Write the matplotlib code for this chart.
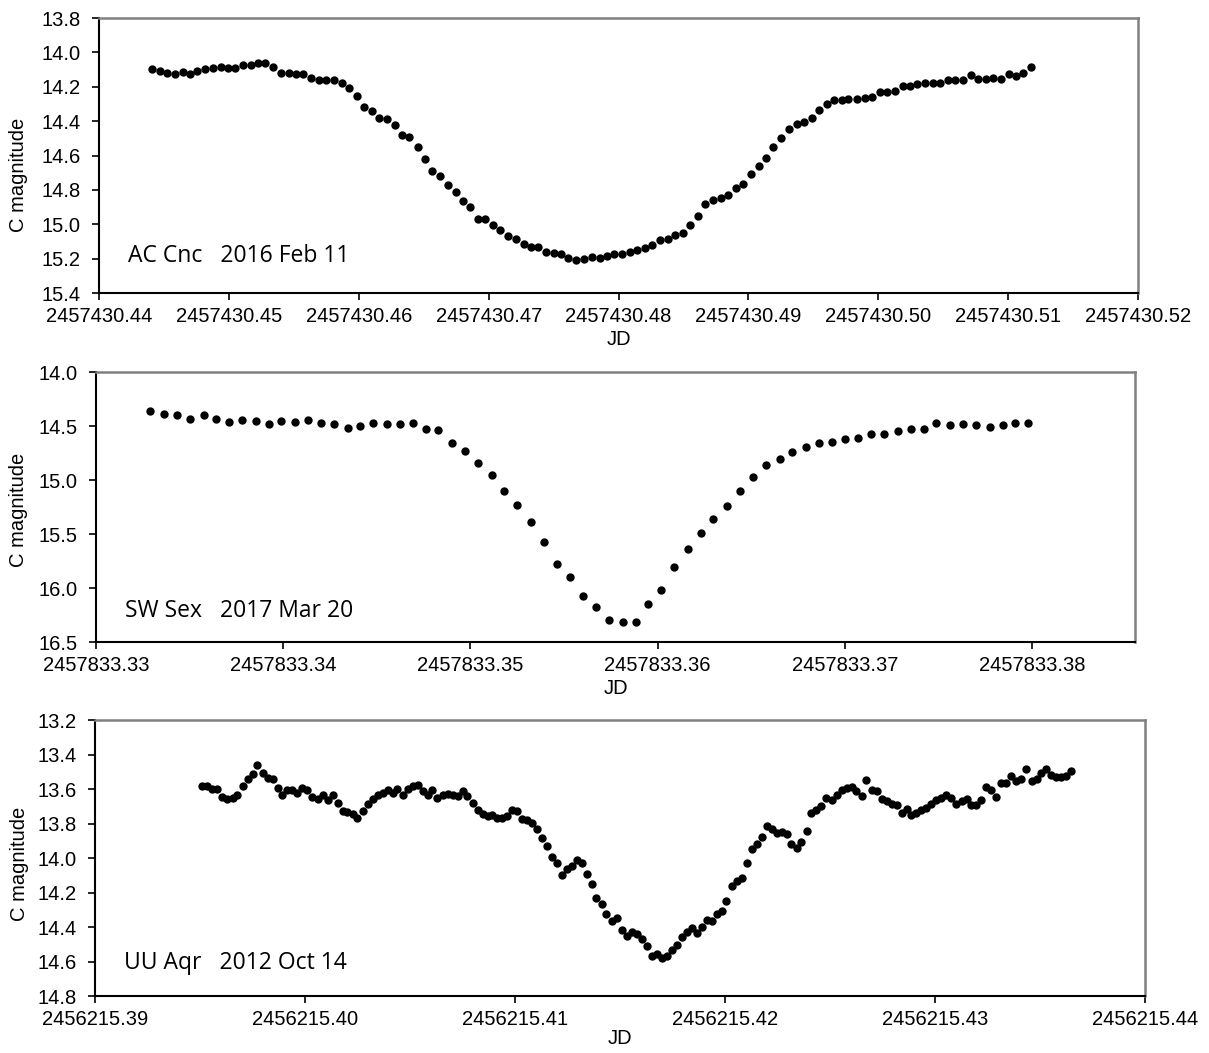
import numpy as np
import matplotlib
matplotlib.use("Agg")
import matplotlib.pyplot as plt
from matplotlib.ticker import FormatStrFormatter

plt.rcParams['font.family'] = ['Liberation Sans', 'DejaVu Sans']

# ------------------------------
# AC Cnc  2016 Feb 11
# ------------------------------
jd0_ac = 2457430.0
t_ac = [0.44408, 0.44470, 0.44526, 0.44585, 0.44644, 0.44700, 0.44757, 0.44816,
        0.44875, 0.44937, 0.44996, 0.45047, 0.45111, 0.45168, 0.45227, 0.45278,
        0.45337, 0.45399, 0.45460, 0.45519, 0.45573, 0.45632, 0.45694, 0.45750,
        0.45807, 0.45868, 0.45922, 0.45984, 0.46040, 0.46099, 0.46158, 0.46215,
        0.46276, 0.46333, 0.46389, 0.46453, 0.46512, 0.46563, 0.46625, 0.46684,
        0.46746, 0.46805, 0.46856, 0.46915, 0.46974, 0.47035, 0.47089, 0.47148,
        0.47208, 0.47272, 0.47328, 0.47382, 0.47441, 0.47500, 0.47559, 0.47613,
        0.47672, 0.47731, 0.47793, 0.47854, 0.47908, 0.47964, 0.48026, 0.48088,
        0.48139, 0.48201, 0.48259, 0.48321, 0.48380, 0.48434, 0.48493, 0.48552,
        0.48614, 0.48668, 0.48727, 0.48786, 0.48845, 0.48901, 0.48960, 0.49019,
        0.49081, 0.49137, 0.49191, 0.49250, 0.49312, 0.49371, 0.49429, 0.49486,
        0.49543, 0.49602, 0.49660, 0.49717, 0.49768, 0.49835, 0.49894, 0.49953,
        0.50010, 0.50068, 0.50128, 0.50187, 0.50243, 0.50299, 0.50359, 0.50418,
        0.50479, 0.50533, 0.50592, 0.50651, 0.50713, 0.50769, 0.50826, 0.50884,
        0.50944, 0.51005, 0.51061, 0.51118, 0.51177]
mag_ac = [14.095, 14.108, 14.122, 14.128, 14.114, 14.128, 14.108, 14.095,
          14.089, 14.083, 14.089, 14.089, 14.075, 14.075, 14.064, 14.064,
          14.083, 14.122, 14.122, 14.128, 14.128, 14.147, 14.161, 14.161,
          14.161, 14.180, 14.209, 14.252, 14.316, 14.341, 14.384, 14.386,
          14.423, 14.481, 14.494, 14.551, 14.620, 14.688, 14.717, 14.770,
          14.810, 14.863, 14.901, 14.969, 14.969, 15.006, 15.031, 15.068,
          15.084, 15.117, 15.130, 15.130, 15.161, 15.169, 15.175, 15.194,
          15.208, 15.200, 15.189, 15.194, 15.183, 15.175, 15.175, 15.161,
          15.148, 15.136, 15.123, 15.092, 15.088, 15.064, 15.053, 15.006,
          14.954, 14.882, 14.857, 14.845, 14.830, 14.787, 14.766, 14.706,
          14.661, 14.616, 14.549, 14.498, 14.446, 14.415, 14.407, 14.384,
          14.335, 14.298, 14.277, 14.277, 14.271, 14.271, 14.265, 14.258,
          14.231, 14.231, 14.225, 14.194, 14.194, 14.186, 14.178, 14.180,
          14.180, 14.161, 14.161, 14.161, 14.134, 14.153, 14.153, 14.147,
          14.155, 14.128, 14.136, 14.122, 14.083]

# ------------------------------
# SW Sex  2017 Mar 20
# ------------------------------
jd0_sw = 2457833.0
t_sw = [0.33291, 0.33363, 0.33434, 0.33504, 0.33575, 0.33640, 0.33713, 0.33781,
        0.33854, 0.33924, 0.33989, 0.34062, 0.34132, 0.34203, 0.34273, 0.34346,
        0.34411, 0.34481, 0.34552, 0.34623, 0.34695, 0.34765, 0.34829, 0.34901,
        0.34972, 0.35042, 0.35115, 0.35180, 0.35250, 0.35323, 0.35393, 0.35464,
        0.35534, 0.35600, 0.35672, 0.35741, 0.35813, 0.35884, 0.35949, 0.36019,
        0.36090, 0.36162, 0.36233, 0.36298, 0.36369, 0.36441, 0.36512, 0.36580,
        0.36653, 0.36720, 0.36790, 0.36861, 0.36931, 0.37002, 0.37069, 0.37139,
        0.37210, 0.37282, 0.37351, 0.37423, 0.37489, 0.37561, 0.37630, 0.37700,
        0.37773, 0.37843, 0.37908, 0.37979]
mag_sw = [14.358, 14.389, 14.398, 14.432, 14.398, 14.432, 14.463, 14.441,
          14.454, 14.485, 14.454, 14.463, 14.441, 14.472, 14.485, 14.515,
          14.503, 14.472, 14.485, 14.485, 14.472, 14.525, 14.537, 14.660,
          14.731, 14.846, 14.951, 15.105, 15.231, 15.386, 15.571, 15.775,
          15.901, 16.077, 16.176, 16.296, 16.318, 16.318, 16.148, 16.018,
          15.809, 15.642, 15.488, 15.364, 15.241, 15.105, 14.969, 14.858,
          14.806, 14.744, 14.691, 14.660, 14.648, 14.617, 14.608, 14.577,
          14.577, 14.546, 14.525, 14.525, 14.472, 14.494, 14.485, 14.494,
          14.506, 14.494, 14.472, 14.472]

# ------------------------------
# UU Aqr  2012 Oct 14
# ------------------------------
jd0_uu = 2456215.0
t_uu = [0.39511, 0.39535, 0.39559, 0.39581, 0.39606, 0.39630, 0.39656, 0.39678,
        0.39703, 0.39727, 0.39751, 0.39773, 0.39798, 0.39822, 0.39846, 0.39870,
        0.39892, 0.39916, 0.39940, 0.39964, 0.39987, 0.40011, 0.40035, 0.40060,
        0.40084, 0.40108, 0.40132, 0.40156, 0.40179, 0.40202, 0.40227, 0.40249,
        0.40275, 0.40298, 0.40322, 0.40346, 0.40370, 0.40394, 0.40417, 0.40440,
        0.40465, 0.40489, 0.40513, 0.40537, 0.40560, 0.40584, 0.40606, 0.40630,
        0.40656, 0.40679, 0.40703, 0.40727, 0.40751, 0.40773, 0.40798, 0.40822,
        0.40846, 0.40870, 0.40892, 0.40916, 0.40940, 0.40964, 0.40987, 0.41011,
        0.41035, 0.41059, 0.41079, 0.41106, 0.41130, 0.41154, 0.41176, 0.41202,
        0.41224, 0.41249, 0.41271, 0.41297, 0.41319, 0.41345, 0.41368, 0.41386,
        0.41416, 0.41435, 0.41462, 0.41484, 0.41510, 0.41532, 0.41557, 0.41579,
        0.41605, 0.41629, 0.41652, 0.41675, 0.41698, 0.41722, 0.41746, 0.41771,
        0.41794, 0.41819, 0.41841, 0.41867, 0.41889, 0.41914, 0.41938, 0.41962,
        0.41984, 0.42005, 0.42032, 0.42056, 0.42079, 0.42103, 0.42129, 0.42151,
        0.42176, 0.42198, 0.42222, 0.42246, 0.42272, 0.42294, 0.42313, 0.42341,
        0.42362, 0.42389, 0.42408, 0.42433, 0.42457, 0.42481, 0.42508, 0.42532,
        0.42556, 0.42579, 0.42603, 0.42624, 0.42651, 0.42672, 0.42698, 0.42722,
        0.42746, 0.42770, 0.42794, 0.42817, 0.42841, 0.42865, 0.42886, 0.42910,
        0.42933, 0.42957, 0.42981, 0.43005, 0.43029, 0.43052, 0.43076, 0.43100,
        0.43127, 0.43151, 0.43172, 0.43195, 0.43219, 0.43243, 0.43267, 0.43291,
        0.43314, 0.43338, 0.43362, 0.43386, 0.43410, 0.43433, 0.43460, 0.43484,
        0.43503, 0.43529, 0.43551, 0.43575, 0.43600, 0.43624, 0.43648]
mag_uu = [13.582, 13.582, 13.601, 13.601, 13.645, 13.660, 13.653, 13.637,
          13.582, 13.541, 13.511, 13.459, 13.509, 13.536, 13.541, 13.593,
          13.634, 13.607, 13.607, 13.620, 13.593, 13.607, 13.645, 13.660,
          13.637, 13.666, 13.634, 13.680, 13.729, 13.735, 13.747, 13.768,
          13.729, 13.685, 13.660, 13.634, 13.620, 13.607, 13.620, 13.599,
          13.634, 13.599, 13.582, 13.574, 13.612, 13.634, 13.607, 13.649,
          13.634, 13.626, 13.634, 13.639, 13.611, 13.639, 13.683, 13.724,
          13.747, 13.754, 13.752, 13.768, 13.768, 13.754, 13.720, 13.729,
          13.774, 13.777, 13.797, 13.833, 13.885, 13.931, 13.992, 14.027,
          14.098, 14.063, 14.044, 14.011, 14.031, 14.090, 14.148, 14.232,
          14.265, 14.322, 14.363, 14.349, 14.418, 14.453, 14.428, 14.439,
          14.468, 14.508, 14.568, 14.554, 14.581, 14.566, 14.533, 14.504,
          14.460, 14.430, 14.407, 14.432, 14.401, 14.359, 14.363, 14.324,
          14.305, 14.251, 14.161, 14.130, 14.117, 14.027, 13.948, 13.916,
          13.879, 13.814, 13.833, 13.852, 13.848, 13.862, 13.917, 13.942,
          13.906, 13.841, 13.739, 13.724, 13.699, 13.653, 13.662, 13.637,
          13.607, 13.593, 13.588, 13.612, 13.641, 13.549, 13.607, 13.614,
          13.659, 13.672, 13.687, 13.691, 13.737, 13.714, 13.752, 13.737,
          13.720, 13.712, 13.685, 13.666, 13.653, 13.632, 13.653, 13.687,
          13.672, 13.659, 13.693, 13.693, 13.664, 13.588, 13.607, 13.647,
          13.563, 13.563, 13.524, 13.555, 13.540, 13.486, 13.555, 13.541,
          13.505, 13.486, 13.520, 13.532, 13.532, 13.526, 13.494]

fig = plt.figure(figsize=(12.09, 10.53), dpi=100)

panels = [
    # axes rect, jd0, t, mag, xlim, xticks, ylim, yticks, label, text y,
    # ylabel x, ylabel y, xlabel pad
    ([0.0819, 0.7217, 0.8594, 0.2612], jd0_ac, t_ac, mag_ac,
     (0.44, 0.52), np.arange(0.44, 0.5201, 0.01), (15.4, 13.8),
     np.arange(13.8, 15.401, 0.2), "AC Cnc   2016 Feb 11", 0.113, -0.068, 0.43, 3),
    ([0.0794, 0.3903, 0.8594, 0.2564], jd0_sw, t_sw, mag_sw,
     (0.33, 0.3855), np.arange(0.33, 0.3801, 0.01), (16.5, 14.0),
     np.arange(14.0, 16.501, 0.5), "SW Sex   2017 Mar 20", 0.093, -0.065, 0.49, 3),
    ([0.0786, 0.0540, 0.8685, 0.2622], jd0_uu, t_uu, mag_uu,
     (0.39, 0.44), np.arange(0.39, 0.4401, 0.01), (14.8, 13.2),
     np.arange(13.2, 14.801, 0.2), "UU Aqr   2012 Oct 14", 0.10, -0.063, 0.48, 0),
]

for rect, jd0, t, mag, xl, xt, yl, yt, label, ty, lx, ly, xpad in panels:
    ax = fig.add_axes(rect)
    ax.plot(jd0 + np.array(t), mag, "o", color="black", ms=5, mec="black")
    ax.set_xlim(jd0 + xl[0], jd0 + xl[1])
    ax.set_ylim(*yl)
    ax.set_xticks(jd0 + xt)
    ax.set_yticks(yt)
    ax.xaxis.set_major_formatter(FormatStrFormatter("%.2f"))
    ax.yaxis.set_major_formatter(FormatStrFormatter("%.1f"))
    ax.tick_params(axis="both", direction="out", length=5, width=1.2,
                   labelsize=14.5, color="black")
    ax.tick_params(axis="x", pad=5)
    ax.tick_params(axis="y", pad=8)
    for side in ["top", "right"]:
        ax.spines[side].set_color("#808080")
        ax.spines[side].set_linewidth(1.8)
    for side in ["left", "bottom"]:
        ax.spines[side].set_color("black")
        ax.spines[side].set_linewidth(1.5)
    ax.set_xlabel("JD", fontsize=14.5, labelpad=xpad)
    ax.set_ylabel("C magnitude", fontsize=14.5)
    ax.yaxis.set_label_coords(lx, ly)
    ax.text(0.028, ty, label, transform=ax.transAxes, fontsize=16.5,
            family="Open Sans", va="baseline")

fig.savefig("out.png", dpi=100)
